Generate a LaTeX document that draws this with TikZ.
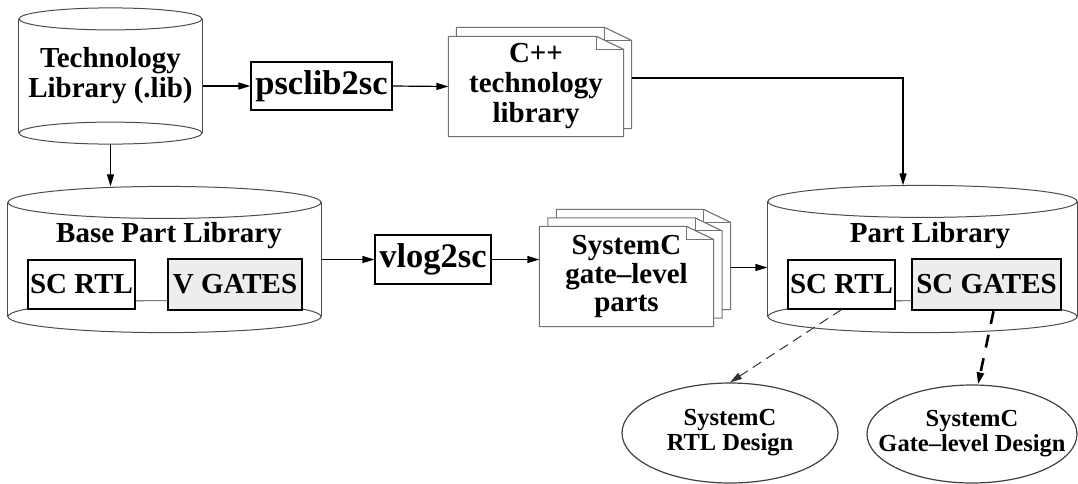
\documentclass[tikz,border=0pt]{standalone}
\usepackage{fontspec}
\setmainfont{Liberation Serif}
\usetikzlibrary{arrows.meta, shapes.geometric, positioning, calc, backgrounds}

% a page with a folded corner, drawn round a node
\newcommand{\sheet}[1]{%
  \filldraw[sheetline, fill=white] (#1.north west) -- ([xshift=-27pt]#1.north east)
    -- ([yshift=-13pt]#1.north east) -- (#1.south east) -- (#1.south west) -- cycle;
  \draw[sheetline] ([xshift=-27pt]#1.north east) |- ([yshift=-13pt]#1.north east);
}
% a drum (database) drawn round a node: node, x radius, y radius
\newcommand{\drum}[3]{%
  \draw[drumline] ([yshift=-#3pt]#1.north west) -- ([yshift=#3pt]#1.south west)
    ([yshift=-#3pt]#1.north east) -- ([yshift=#3pt]#1.south east);
  \draw[drumline] ([yshift=-#3pt]#1.north) ellipse [x radius=#2pt, y radius=#3pt];
  \draw[drumline] ([yshift=#3pt]#1.south) ellipse [x radius=#2pt, y radius=#3pt];
}

\begin{document}
\begin{tikzpicture}[x=1pt, y=-1pt, line width=1.2pt,
    >={Triangle[length=12pt, width=7pt]},
    lbl/.style={font=\fontsize{29}{30}\selectfont\bfseries, align=center},
    tool/.style={draw, font=\fontsize{34.5}{36}\selectfont\bfseries, inner sep=0pt, minimum height=48pt},
    part/.style={draw, fill=white, lbl, inner sep=0pt, minimum height=49pt},
    gatebox/.style={part, fill=black!7, line width=2.6pt, minimum height=51pt},
    drumbox/.style={inner sep=0pt},
    sheetbox/.style={lbl, inner sep=0pt, minimum width=173pt, minimum height=99pt},
    design/.style={ellipse, draw=black!75, inner xsep=-30pt, inner ysep=0pt, font=\fontsize{24.5}{25}\selectfont\bfseries, align=center},
    sheetline/.style={draw=black!55, line width=1.1pt},
    drumline/.style={draw=black!70, line width=1pt}]
  \useasboundingbox (0,0) rectangle (1078,483);

  % upper row
  \node[drumbox, lbl, minimum width=183pt, minimum height=135pt] (techlib) at (110.5,76) {Technology\\Library (.lib)};
  \node[tool, minimum width=141pt] (psclib) at (321.5,86) {psclib2sc};
  \node[sheetbox, minimum width=174pt, minimum height=100pt] (cppback) at (544,78) {};
  \node[sheetbox, minimum width=174pt] (cpp) at (536,86.5) {C++\\technology\\library};

  % lower row
  \node[drumbox, minimum width=313pt, minimum height=145pt] (base) at (164.5,259.5) {};
  \node[lbl] (basetitle) at (169,236) {Base Part Library};
  \node[part, minimum width=107pt] (rtlA) at (81.5,284.5) {SC RTL};
  \node[gatebox, minimum width=134pt] (vgates) at (235,284.5) {V GATES};
  \node[tool, minimum width=116pt, minimum height=49pt] (vlog) at (433,259.5) {vlog2sc};
  \node[sheetbox] (scback) at (643.5,259.5) {};
  \node[sheetbox] (scmid) at (635,268) {};
  \node[sheetbox, font=\fontsize{29}{28.5}\selectfont\bfseries] (scdoc) at (626.5,276.5) {SystemC\\gate--level\\parts};
  \node[drumbox, minimum width=309pt, minimum height=146pt] (partlib) at (922.5,259) {};
  \node[lbl] (parttitle) at (930,236) {Part Library};
  \node[part, minimum width=107pt] (rtlB) at (841.5,284.5) {SC RTL};
  \node[gatebox, minimum width=149pt] (scgates) at (986.5,284.5) {SC GATES};

  % designs
  \node[design, minimum width=216pt, minimum height=100pt] (rtldesign) at (730,433) {SystemC\\RTL Design};
  \node[design, minimum width=210pt, minimum height=98pt] (gatedesign) at (972,434) {SystemC\\Gate--level Design};

  % pages and drums behind the text
  \begin{scope}[on background layer]
    \foreach \p in {cppback, cpp, scback, scmid, scdoc}{
      \sheet{\p}
    }
    \drum{techlib}{91.5}{11}
    \drum{base}{156.5}{16}
    \drum{partlib}{154.5}{16}
  \end{scope}

  % links inside the drums
  \draw[black!50] ([yshift=9pt]rtlA.south east) -- ([yshift=9pt]rtlA.south east -| vgates.west);
  \draw[black!50] ([yshift=9pt]rtlB.south east) -- ([yshift=9pt]rtlB.south east -| scgates.west);

  % flow
  \draw[->] (psclib.west -| techlib.east) -- (psclib.west);
  \draw[->] (psclib.east) -- (cpp.west);
  \draw[->] (techlib.south) -- (techlib.south |- base.north);
  \draw[->] (cppback.east) -| ([xshift=-19.5pt]partlib.north);
  \draw[->] (vlog.west -| base.east) -- (vlog.west);
  \draw[->] (vlog.east) -- (vlog.east -| scdoc.west);
  \draw[->] ([yshift=-8pt]scback.east) -- ([yshift=-8pt]scback.east -| partlib.west);
  \draw[->, black!80, line width=1pt, dash pattern=on 10pt off 6pt] (rtlB.south) -- (rtldesign.north);
  \draw[->, line width=2.6pt, dash pattern=on 13pt off 11pt] ([xshift=7pt]scgates.south) -- ([xshift=6pt]gatedesign.north);
\end{tikzpicture}
\end{document}
